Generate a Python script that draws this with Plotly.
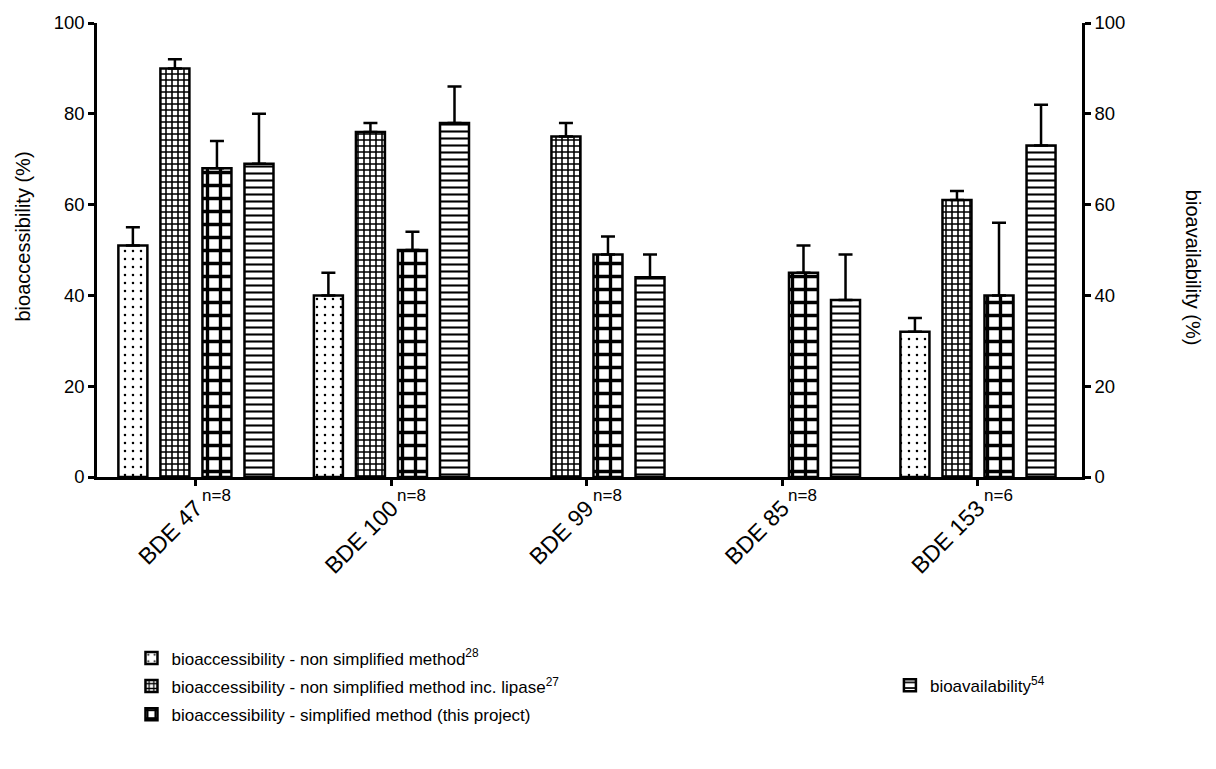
import plotly.graph_objects as go

categories = ["BDE 47", "BDE 100", "BDE 99", "BDE 85", "BDE 153"]
n_labels = ["n=8", "n=8", "n=8", "n=8", "n=6"]

series_names = [
    "bioaccessibility - non simplified method<sup>28</sup>",
    "bioaccessibility - non simplified method inc. lipase<sup>27</sup>",
    "bioaccessibility - simplified method (this project)",
    "bioavailability<sup>54</sup>",
]
non_simplified = [51, 40, None, None, 32]
non_simplified_err_top = [55, 45, None, None, 35]
lipase = [90, 76, 75, None, 61]
lipase_err_top = [92, 78, 78, None, 63]
simplified = [68, 50, 49, 45, 40]
simplified_err_top = [74, 54, 53, 51, 56]
bioavailability = [69, 78, 44, 39, 73]
bioavailability_err_top = [80, 86, 49, 49, 82]

values = [non_simplified, lipase, simplified, bioavailability]
tops = [non_simplified_err_top, lipase_err_top, simplified_err_top, bioavailability_err_top]

patterns = [
    dict(shape=".", size=8, solidity=0.08, fgcolor="black", bgcolor="white", fgopacity=1),
    dict(shape="+", size=6, solidity=0.45, fgcolor="black", bgcolor="white", fgopacity=1),
    dict(shape="+", size=13, solidity=0.45, fgcolor="black", bgcolor="white", fgopacity=1),
    dict(shape="-", size=7, solidity=0.3, fgcolor="black", bgcolor="white", fgopacity=1),
]
legends = ["legend", "legend", "legend", "legend2"]

FONT = "Liberation Sans, Arial, Helvetica, sans-serif"

fig = go.Figure()
for i in range(4):
    v = values[i]
    t = tops[i]
    plus = [(tt - vv) if (vv is not None and tt is not None) else None for vv, tt in zip(v, t)]
    minus = [0 if vv is not None else None for vv in v]
    fig.add_trace(go.Bar(
        x=categories, y=v, name=series_names[i],
        legend=legends[i], legendgroup="g%d" % i,
        marker=dict(color="white", line=dict(color="black", width=2.5), pattern=patterns[i]),
        error_y=dict(type="data", symmetric=False, array=plus, arrayminus=minus,
                     color="black", thickness=2.5, width=7),
    ))

# invisible companion trace so the right-hand (bioavailability) axis is drawn
fig.add_trace(go.Scatter(x=categories, y=bioavailability, yaxis="y2", mode="markers",
                         marker=dict(opacity=0), showlegend=False, hoverinfo="skip"))

for c, n in zip(categories, n_labels):
    fig.add_annotation(x=c, y=0, xref="x", yref="y", text=n, showarrow=False,
                       xanchor="left", yanchor="middle", xshift=4, yshift=-18,
                       font=dict(family=FONT, size=17, color="black"))

fig.add_annotation(x=-0.075, y=0.53, xref="paper", yref="paper", text="bioaccessibility (%)",
                   textangle=-90, showarrow=False, xanchor="center", yanchor="middle",
                   font=dict(family=FONT, size=20, color="black"))
fig.add_annotation(x=1.113, y=0.46, xref="paper", yref="paper", text="bioavailability (%)",
                   textangle=90, showarrow=False, xanchor="center", yanchor="middle",
                   font=dict(family=FONT, size=20, color="black"))

axis_common = dict(showline=True, linecolor="black", linewidth=2.5, ticks="outside",
                   tickwidth=2.5, ticklen=6, tickcolor="black", showgrid=False, zeroline=False,
                   tickfont=dict(family=FONT, size=18.5, color="black"))

fig.update_layout(
    width=1216, height=769,
    paper_bgcolor="white", plot_bgcolor="white",
    margin=dict(l=97, r=134, t=20, b=292),
    barmode="group", bargap=0.14, bargroupgap=0.31,
    font=dict(family=FONT, size=18, color="black"),
    xaxis=dict(**{**axis_common, "tickfont": dict(family=FONT, size=23, color="black")},
               range=[-0.506, 4.532], tickangle=-45),
    yaxis=dict(**axis_common, range=[0, 100], tickvals=[0, 20, 40, 60, 80, 100]),
    yaxis2=dict(**axis_common, range=[0, 100], overlaying="y", side="right", anchor="x",
                tickvals=[0, 20, 40, 60, 80, 100]),
    legend=dict(x=0.035, y=-0.36, xanchor="left", yanchor="top", tracegroupgap=3,
                bgcolor="rgba(0,0,0,0)", font=dict(family=FONT, size=17, color="black")),
    legend2=dict(x=0.805, y=-0.42, xanchor="left", yanchor="top",
                 bgcolor="rgba(0,0,0,0)", font=dict(family=FONT, size=17, color="black")),
)

fig.write_html("out.html", config={"displayModeBar": False},
               post_script="document.body.style.margin='0';")
